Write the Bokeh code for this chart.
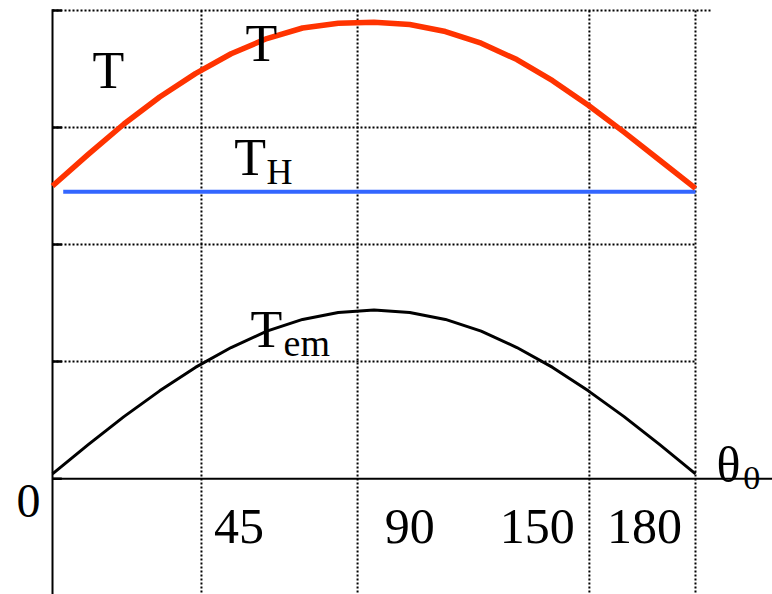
from bokeh.plotting import figure
from bokeh.models import Range1d, Label
from bokeh.embed import file_html
from bokeh.resources import INLINE

# Rotor angle theta_0 (degrees) at which the curves were sampled
theta = [0, 10, 20, 30, 40, 50, 60, 70, 80, 90, 100, 110, 120, 130, 140, 150, 160, 170, 180]
# Electromagnetic torque T_em
t_em = [0.04, 0.29, 0.53, 0.75, 0.95, 1.12, 1.26, 1.36, 1.42, 1.44, 1.42, 1.36, 1.26, 1.12, 0.95, 0.75, 0.53, 0.29, 0.04]
# Total torque T
t_total = [2.50, 2.77, 3.03, 3.26, 3.46, 3.63, 3.76, 3.85, 3.89, 3.90, 3.88, 3.82, 3.72, 3.58, 3.40, 3.19, 2.96, 2.72, 2.48]
# Constant torque T_H
th_theta = [3, 180]
t_h = [2.45, 2.45]

# Axis tick labels
tick_values = [45, 90, 150, 180]
tick_labels = ["45", "90", "150", "180"]

# Dotted grid positions
vgrid = [41.7, 85.4, 150.3, 180]
hgrid = [1, 2, 3, 4]

FONT = "Liberation Serif"
LIFT = 0.15  # raises text baselines onto the intended line

p = figure(width=772, height=594, output_backend="svg", toolbar_location=None,
           x_range=Range1d(-14.56, 201.56), y_range=Range1d(-0.99, 4.085),
           x_axis_location=None, y_axis_location=None,
           min_border=0, outline_line_color=None)
p.xgrid.visible = False
p.ygrid.visible = False
p.background_fill_color = "white"
p.border_fill_color = "white"

# dotted grid
p.segment(x0=vgrid, x1=vgrid, y0=[4.0] * len(vgrid), y1=[-1.0] * len(vgrid),
          line_color="black", line_width=2, line_dash="2 2")
p.segment(x0=[0] * len(hgrid), x1=[180, 180, 180, 184.5], y0=hgrid, y1=hgrid,
          line_color="black", line_width=2, line_dash="2 2")

# axes
p.segment(x0=[0], x1=[0], y0=[4.01], y1=[-1.0], line_color="black", line_width=2)
p.segment(x0=[0], x1=[201.6], y0=[0], y1=[0], line_color="black", line_width=2)
p.segment(x0=[0] * 5, x1=[2.6] * 5, y0=[0, 1, 2, 3, 4], y1=[0, 1, 2, 3, 4],
          line_color="black", line_width=2.5)

# curves
p.line(th_theta, t_h, line_color="#3366ff", line_width=4)
p.line(theta, t_total, line_color="#ff3300", line_width=5.5, line_join="round")
p.line(theta, t_em, line_color="black", line_width=3, line_join="round")


def label(x, y, text, size, align="left"):
    p.add_layout(Label(x=x, y=y + LIFT, text=text, text_font=FONT, text_font_size=f"{size}px",
                       text_color="black", text_align=align, text_baseline="alphabetic"))


label(11.2, 3.34, "T", 52)
label(54.0, 3.57, "T", 52)
label(50.9, 2.59, "T", 52)
label(59.9, 2.47, "H", 36)
label(55.4, 1.12, "T", 52)
label(64.7, 1.01, "em", 38)
label(185.9, -0.03, "\u03b8", 50)
label(193.4, -0.145, "0", 34)
label(-10.1, -0.34, "0", 48)

for v, t in zip(tick_values, tick_labels):
    if v < 100:
        label(v + 0.2 if v == 45 else v + 3.0, -0.556, t, 50, "left")
    else:
        label(v - 3.8, -0.556, t, 50, "right")

open("out.html", "w").write(file_html(p, INLINE))
